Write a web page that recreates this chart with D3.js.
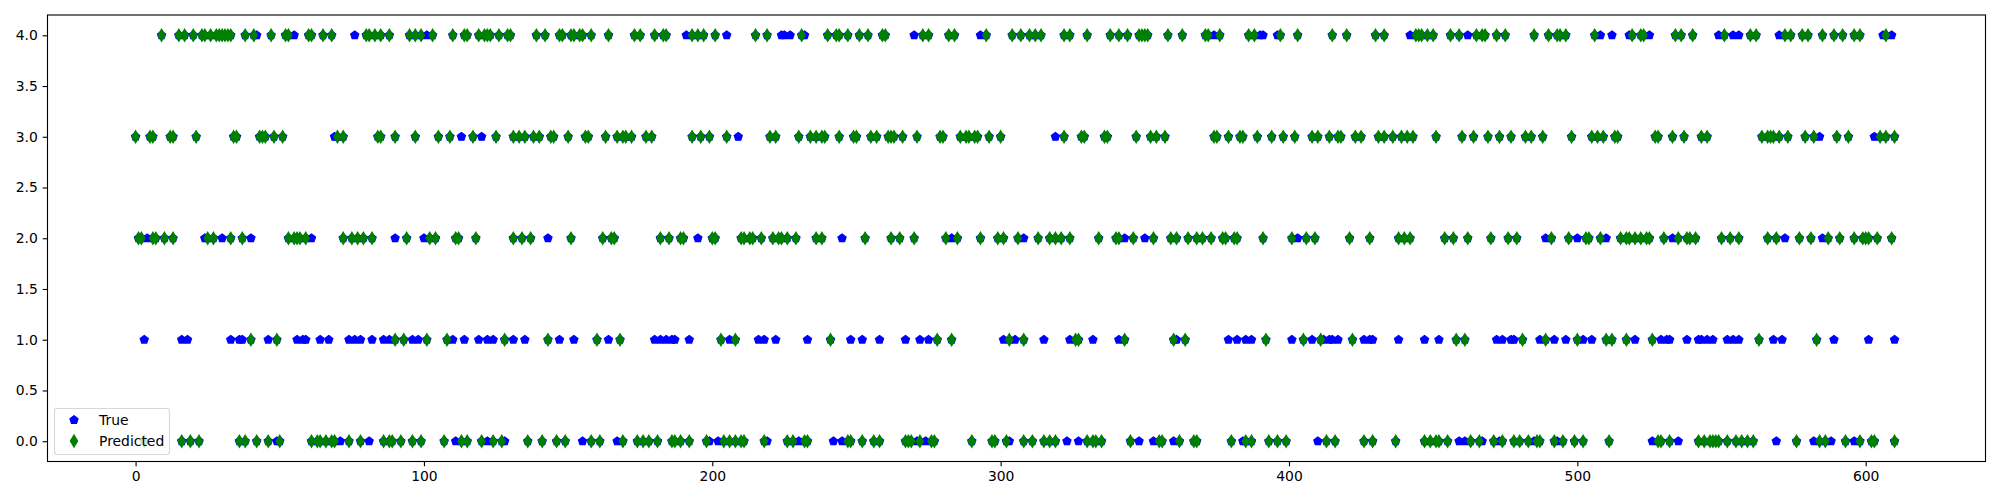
<!DOCTYPE html>
<html>
<head>
<meta charset="utf-8">
<script src="https://cdn.jsdelivr.net/npm/d3@7"></script>
<style>
  html, body { margin: 0; padding: 0; background: #ffffff; }
  svg { display: block; }
  text { font-family: "DejaVu Sans", sans-serif; }
</style>
</head>
<body>
<svg id="chart" width="2000" height="500"></svg>
<script>
// ---- Data: sample indices per class level ----
const levels = [0, 1, 2, 3, 4];
const yTicks = [0.0, 0.5, 1.0, 1.5, 2.0, 2.5, 3.0, 3.5, 4.0];
const xTicks = [0, 100, 200, 300, 400, 500, 600];
const seriesNames = ["True", "Predicted"];

// Predicted class (green diamonds), indices at each level
const pred0 = [3,16,19,22,36,38,42,46,50,61,63,64,66,68,69,74,78,86,88,89,92,96,99,107,113,115,120,124,127,136,141,146,149,158,161,169,174,176,178,181,186,187,189,192,198,204,206,208,210,211,218,226,228,232,233,247,248,252,256,258,267,268,269,272,276,277,290,297,298,302,308,311,315,317,319,330,332,333,335,345,355,356,362,367,368,380,385,387,393,396,399,413,416,426,429,437,447,449,451,452,455,463,466,471,474,478,480,483,486,487,492,495,499,502,511,528,529,532,542,544,546,547,548,549,552,555,557,559,561,576,584,586,593,598,602,603,610];
const pred1 = [40,49,90,93,101,108,128,143,160,168,203,208,241,278,283,303,308,326,327,343,360,364,392,405,411,422,458,461,481,489,500,510,512,517,526,563,583];
const pred2 = [1,2,6,7,10,13,25,27,33,37,53,55,56,57,59,72,75,77,79,82,94,102,104,111,112,118,131,134,137,151,162,165,166,182,185,189,190,200,201,210,211,213,214,217,221,223,224,226,229,236,238,253,262,265,270,281,285,293,299,301,306,313,317,319,321,324,334,340,341,346,353,359,361,365,368,370,373,377,378,381,382,391,401,406,409,421,428,438,440,442,454,457,462,470,476,479,491,497,503,504,508,515,517,518,520,522,524,525,530,535,538,539,541,550,553,556,566,569,577,581,587,591,596,599,600,601,604,609];
const pred3 = [0,5,6,12,13,21,34,35,43,44,45,48,51,70,72,84,85,90,97,105,109,117,125,131,133,135,138,140,144,145,150,156,157,163,167,169,170,172,177,179,193,196,199,205,220,222,230,234,236,238,239,244,249,250,255,257,261,262,263,266,271,279,280,286,288,289,291,292,296,300,322,328,329,336,337,347,352,354,357,374,375,379,383,384,389,394,398,402,408,410,414,417,418,423,425,431,433,436,439,441,443,451,460,464,469,473,477,482,484,488,498,505,507,509,513,514,527,528,533,537,543,545,564,566,567,568,570,573,579,582,590,594,605,607,610];
const pred4 = [9,15,17,20,23,24,26,28,29,30,31,32,33,38,41,47,52,53,60,61,65,68,80,81,83,85,88,95,97,99,103,110,114,115,119,121,122,123,126,129,130,139,142,147,148,151,152,154,155,158,164,173,175,180,183,184,193,195,197,201,215,219,231,240,243,244,247,251,254,259,260,273,275,282,284,295,304,307,310,312,314,322,324,330,338,341,344,348,349,350,351,358,363,371,372,376,386,388,397,403,415,420,430,433,444,445,446,448,450,456,459,465,467,468,472,475,485,490,493,494,496,506,519,522,523,534,536,540,551,560,562,572,574,578,580,585,589,592,596,598,607];

// True class where it differs from the prediction (blue pentagons left visible)
const trueOnly0 = [49,71,81,111,122,128,155,167,199,202,219,230,242,245,271,274,303,323,327,348,353,360,384,410,459,461,467,473,485,493,526,535,569,582,588,596];
const trueOnly1 = [3,16,18,33,36,37,46,56,58,59,64,67,74,76,78,82,86,88,96,98,110,114,119,122,124,131,135,147,152,164,180,182,184,186,187,192,206,216,218,222,233,248,252,258,267,272,275,301,305,315,324,332,341,361,379,382,385,387,401,408,412,414,415,417,426,428,429,438,447,452,472,474,477,478,487,492,496,502,505,520,529,531,532,538,542,543,545,547,552,554,556,568,571,589,601,610];
const trueOnly2 = [4,24,30,40,61,90,100,143,195,245,283,308,343,350,403,489,500,510,533,572,585];
const trueOnly3 = [69,113,120,209,319,584,603];
const trueOnly4 = [42,55,76,101,191,205,224,225,227,232,270,293,374,390,391,396,442,462,508,512,518,525,549,554,556,570,606,609];

const predByLevel = [pred0, pred1, pred2, pred3, pred4];
const trueOnlyByLevel = [trueOnly0, trueOnly1, trueOnly2, trueOnly3, trueOnly4];

// True series = correctly predicted points + the mismatched ones
const truePts = [];
const predPts = [];
levels.forEach((lv, k) => {
  predByLevel[k].forEach(i => { predPts.push({x: i, y: lv}); truePts.push({x: i, y: lv}); });
  trueOnlyByLevel[k].forEach(i => truePts.push({x: i, y: lv}));
});

// ---- Layout ----
const svg = d3.select("#chart");
const L = 47.5, R = 1985.5, T = 15, B = 461.5;
const x = d3.scaleLinear().domain([-30.55, 641.55]).range([L, R]);
const y = d3.scaleLinear().domain([-0.2, 4.2]).range([B, T]);

const blue = "#0000ff", green = "#008000";
const fontPx = 13.9;

// marker paths
const rP = 4.17;
const pentagon = (() => {
  const pts = d3.range(5).map(k => {
    const a = (-90 + 72 * k) * Math.PI / 180;
    return [rP * Math.cos(a), rP * Math.sin(a)];
  });
  return "M" + pts.map(p => p[0].toFixed(3) + "," + p[1].toFixed(3)).join("L") + "Z";
})();
const dh = 5.89, dw = 3.54;
const diamond = `M0,${-dh}L${dw},0L0,${dh}L${-dw},0Z`;

// clip
svg.append("defs").append("clipPath").attr("id", "clip")
  .append("rect").attr("x", L).attr("y", T).attr("width", R - L).attr("height", B - T);

const plot = svg.append("g").attr("clip-path", "url(#clip)");

plot.append("g").selectAll("path").data(truePts).join("path")
  .attr("d", pentagon)
  .attr("transform", d => `translate(${x(d.x)},${y(d.y)})`)
  .attr("fill", blue).attr("stroke", blue).attr("stroke-width", 1.39).attr("stroke-linejoin", "miter");

plot.append("g").selectAll("path").data(predPts).join("path")
  .attr("d", diamond)
  .attr("transform", d => `translate(${x(d.x)},${y(d.y)})`)
  .attr("fill", green).attr("stroke", green).attr("stroke-width", 1.39).attr("stroke-linejoin", "miter");

// axes
const xAxis = d3.axisBottom(x).tickValues(xTicks).tickFormat(d3.format("d")).tickSize(4.86).tickPadding(4.86);
const yAxis = d3.axisLeft(y).tickValues(yTicks).tickFormat(d3.format(".1f")).tickSize(4.86).tickPadding(4.86);

const gx = svg.append("g").attr("transform", `translate(0,${B})`).call(xAxis);
const gy = svg.append("g").attr("transform", `translate(${L},0)`).call(yAxis);
[gx, gy].forEach(g => {
  g.select(".domain").remove();
  g.selectAll(".tick line").attr("stroke", "#000").attr("stroke-width", 1.11);
  g.selectAll(".tick text").attr("fill", "#000").style("font-size", fontPx + "px")
    .style("font-family", "'DejaVu Sans', sans-serif");
});

// frame
svg.append("rect").attr("x", L).attr("y", T).attr("width", R - L).attr("height", B - T)
  .attr("fill", "none").attr("stroke", "#000").attr("stroke-width", 1.11);

// legend
const lg = svg.append("g");
const lx = 54.5, ly = 408.5, lw = 115, lh = 46;
lg.append("rect").attr("x", lx).attr("y", ly).attr("width", lw).attr("height", lh)
  .attr("rx", 2.8).attr("ry", 2.8)
  .attr("fill", "#ffffff").attr("fill-opacity", 0.8)
  .attr("stroke", "#cccccc").attr("stroke-opacity", 0.8).attr("stroke-width", 1.11);
const legendMarks = [pentagon, diamond];
const legendCols = [blue, green];
seriesNames.forEach((name, i) => {
  const cy = 420 + i * 21;
  lg.append("path").attr("d", legendMarks[i]).attr("transform", `translate(74,${cy})`)
    .attr("fill", legendCols[i]).attr("stroke", legendCols[i]).attr("stroke-width", 1.39);
  lg.append("text").attr("x", 99).attr("y", cy).attr("dy", "0.35em")
    .style("font-size", fontPx + "px").attr("fill", "#000").text(name);
});
</script>
</body>
</html>
